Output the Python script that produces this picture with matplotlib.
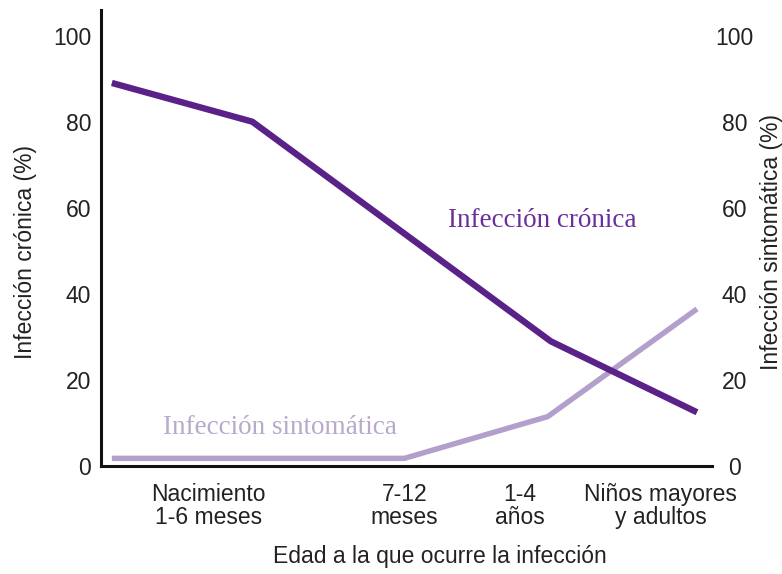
import matplotlib
matplotlib.use("Agg")
import matplotlib.pyplot as plt

# age groups (x positions along the age axis) and values
x_cronica = [0, 0.96, 3.0, 4.0]
cronica = [89, 80, 29, 12.5]
x_sintom = [0, 2.0, 2.98, 4.0]
sintomatica = [1.8, 1.8, 11.5, 36.5]

cat_pos = [0.66, 2.0, 2.79, 3.75]
cat_labels = ["Nacimiento\n1-6 meses", "7-12\nmeses", "1-4\naños", "Niños mayores\ny adultos"]
yticks = [0, 20, 40, 60, 80, 100]

dark = "#5a2189"
light = "#b29fcb"

plt.rcParams['font.family'] = ['Liberation Sans', 'DejaVu Sans']

fig = plt.figure(figsize=(7.82, 5.74), dpi=100)
ax = fig.add_axes([0.129, 0.188, 0.781, 0.795])

ax.plot(x_cronica, cronica, color=dark, lw=4.6, solid_capstyle='butt', zorder=3)
ax.plot(x_sintom, sintomatica, color=light, lw=3.9, solid_capstyle='butt', zorder=2)

ax.set_xlim(-0.075, 4.1)
ax.set_ylim(0, 106)

for s in ['top', 'right']:
    ax.spines[s].set_visible(False)
for s in ['left', 'bottom']:
    ax.spines[s].set_linewidth(2.2)
    ax.spines[s].set_color('#111111')

ax.set_xticks(cat_pos)
ax.set_xticklabels(cat_labels, fontsize=16.5, linespacing=1.0, color='#222222')
ax.tick_params(axis='x', length=0, pad=12)
ax.set_yticks(yticks)
ax.set_yticklabels([str(v) for v in yticks], fontsize=16.5, color='#222222')
ax.tick_params(axis='y', length=0, pad=7)
ax.set_ylabel("Infección crónica (%)", fontsize=16.5, color='#222222')
ax.yaxis.set_label_coords(-0.105, 0.47)

ax2 = ax.twinx()
ax2.set_ylim(0, 106)
for s in ['top', 'right', 'left', 'bottom']:
    ax2.spines[s].set_visible(False)
ax2.set_yticks(yticks)
ax2.set_yticklabels([str(v) for v in yticks], fontsize=16.5, color='#222222', ha='center')
ax2.tick_params(axis='y', length=0, pad=16.5)
ax2.set_ylabel("Infección sintomática (%)", fontsize=16.5, color='#222222')
ax2.yaxis.set_label_coords(1.08, 0.49)

ax.text(2.3, 57, "Infección crónica", fontsize=19.5, color="#6b2f9c",
        family=['Liberation Serif', 'DejaVu Serif'], va='center')
ax.text(0.35, 9, "Infección sintomática", fontsize=19.5, color="#b9a9cb",
        family=['Liberation Serif', 'DejaVu Serif'], va='center')

fig.text(0.563, 0.03, "Edad a la que ocurre la infección", fontsize=16.5,
         color='#222222', ha='center', va='center')

fig.savefig("out.png", dpi=100)
